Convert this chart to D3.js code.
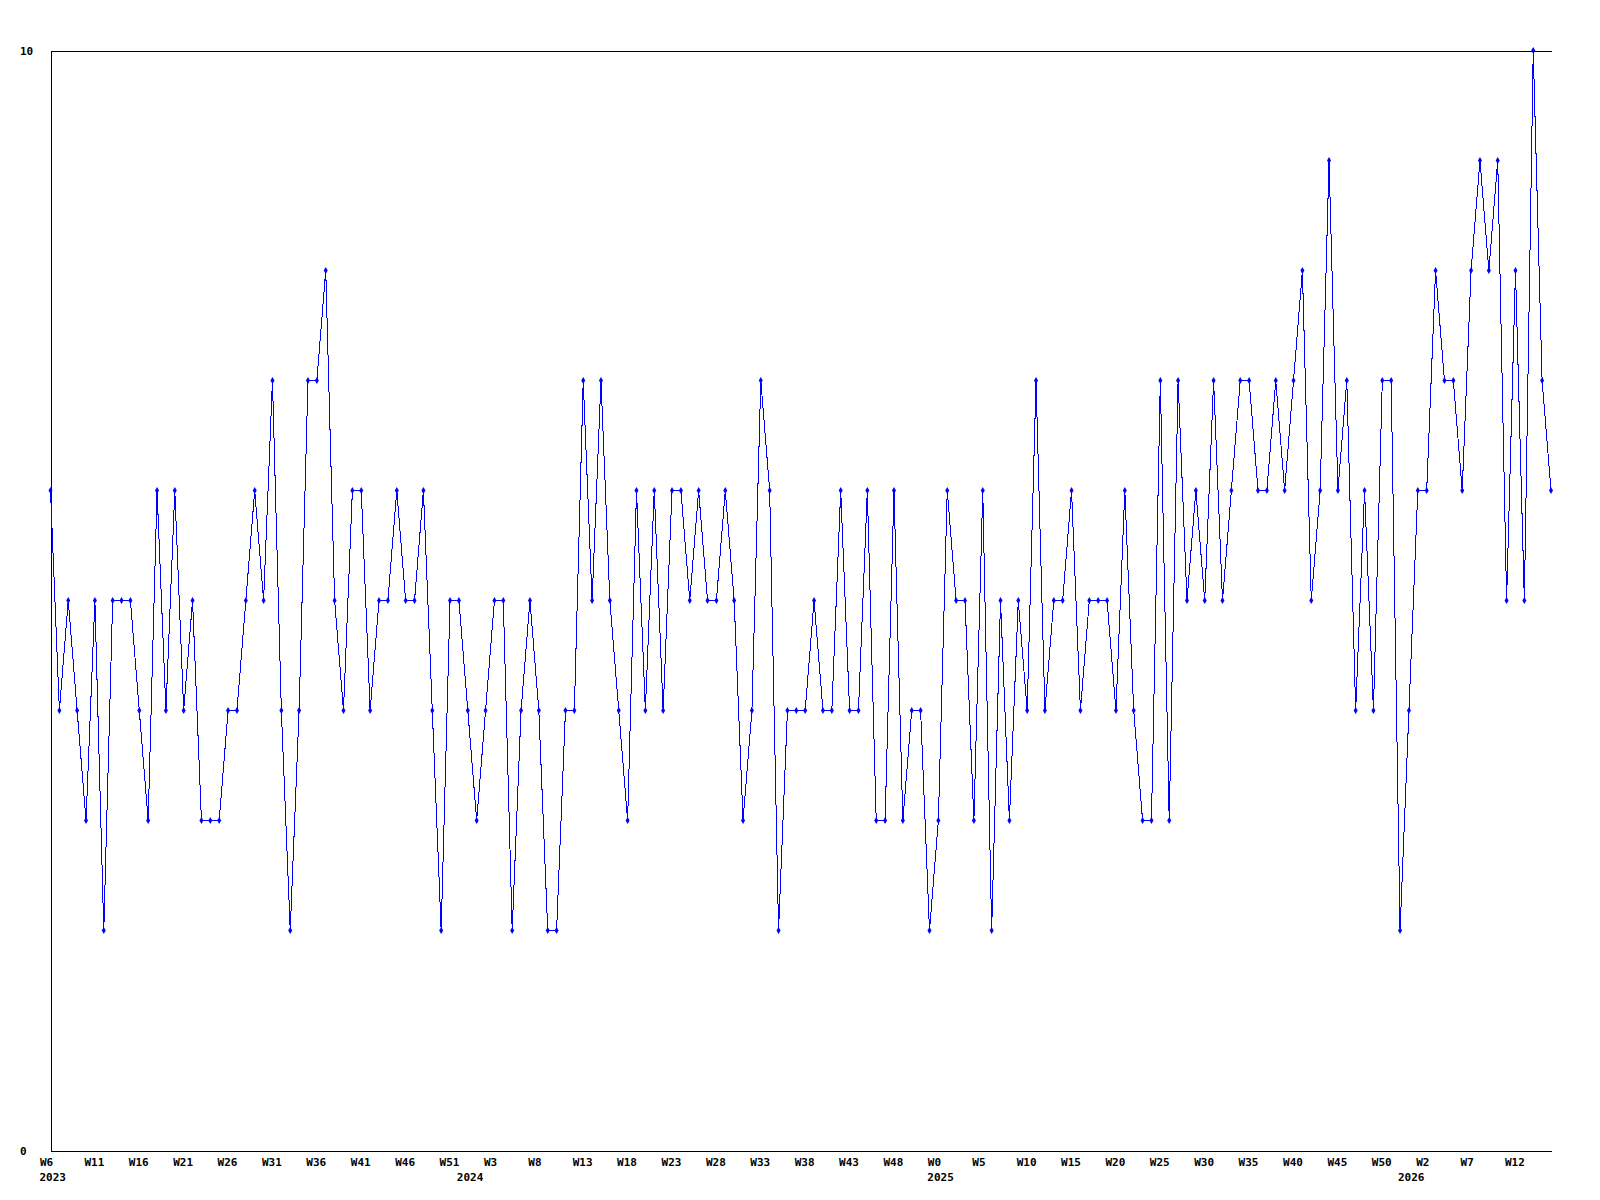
<!DOCTYPE html>
<html>
<head>
<meta charset="utf-8">
<script src="https://cdn.jsdelivr.net/npm/d3@7"></script>
<style>
  html, body { margin: 0; padding: 0; background: #fff; }
  svg { display: block; }
  text { font-family: "DejaVu Sans Mono", "Liberation Mono", monospace; font-weight: bold; font-size: 11px; fill: #000; }
</style>
</head>
<body>
<svg id="chart" width="1600" height="1200"></svg>
<script>
// ---- data ----
const years = ["2023", "2024", "2025", "2026"];
const weeks2023 = ["W6","W7","W8","W9","W10","W11","W12","W13","W14","W15","W16","W17","W18","W19","W20","W21","W22","W23","W24","W25","W26","W27","W28","W29","W30","W31","W32","W33","W34","W35","W36","W37","W38","W39","W40","W41","W42","W43","W44","W45","W46","W47","W48","W49","W50","W51","W52"];
const weeks2024 = ["W0","W1","W2","W3","W4","W5","W6","W7","W8","W9","W10","W11","W12","W13","W14","W15","W16","W17","W18","W19","W20","W21","W22","W23","W24","W25","W26","W27","W28","W29","W30","W31","W32","W33","W34","W35","W36","W37","W38","W39","W40","W41","W42","W43","W44","W45","W46","W47","W48","W49","W50","W51","W52"];
const weeks2025 = ["W0","W1","W2","W3","W4","W5","W6","W7","W8","W9","W10","W11","W12","W13","W14","W15","W16","W17","W18","W19","W20","W21","W22","W23","W24","W25","W26","W27","W28","W29","W30","W31","W32","W33","W34","W35","W36","W37","W38","W39","W40","W41","W42","W43","W44","W45","W46","W47","W48","W49","W50","W51","W52"];
const weeks2026 = ["W0","W1","W2","W3","W4","W5","W6","W7","W8","W9","W10","W11","W12","W13","W14","W15","W16"];
const values = [
  6,4,5,4,3,5,2,5,5,5,4,3,6,4,6,4,5,3,3,3,4,4,5,6,5,7,4,2,4,7,
  7,8,5,4,6,6,4,5,5,6,5,5,6,4,2,5,5,4,3,4,5,5,2,4,5,4,2,2,
  4,4,7,5,7,5,4,3,6,4,6,4,6,6,5,6,5,5,6,5,3,4,7,6,2,4,4,4,
  5,4,4,6,4,4,6,3,3,6,3,4,4,2,3,6,5,5,3,6,2,5,3,5,4,7,4,5,
  5,6,4,5,5,5,4,6,4,3,3,7,3,7,5,6,5,7,5,6,7,7,6,6,7,6,7,8,5,
  6,9,6,7,4,6,4,7,7,2,4,6,6,8,7,7,6,8,9,8,9,5,8,5,10,7,6
];
const yTicks = [0, 10];
const tickEvery = 5;

// build table
const weekLists = [weeks2023, weeks2024, weeks2025, weeks2026];
const rows = [];
weekLists.forEach((wl, yi) => wl.forEach((w, wi) => rows.push({ year: years[yi], week: w, firstOfYear: wi === 0 })));
rows.forEach((r, i) => r.value = values[i]);

// ---- chart ----
const svg = d3.select("#chart");
const plotLeft = 50.5, plotRight = 1551, plotTop = 50.5, plotBottom = 1150.5;

const x = d3.scaleLinear().domain([0, rows.length - 1]).range([plotLeft, plotRight]);
const y = d3.scaleLinear().domain([0, 10]).range([plotBottom, plotTop]);

// axes
const xAxis = d3.axisBottom(x)
  .tickValues(d3.range(0, rows.length, tickEvery))
  .tickFormat(i => rows[i].week)
  .tickSize(0).tickSizeOuter(0);
const gx = svg.append("g").attr("transform", `translate(0,${plotBottom})`).call(xAxis);
gx.select(".domain").attr("stroke", "#000").attr("shape-rendering", "crispEdges");
gx.selectAll(".tick text").attr("text-anchor", "start").attr("dx", -11).attr("y", 12)
  .attr("dy", "0.32em").attr("font-family", null).attr("font-size", null);

// year labels
svg.append("g").selectAll("text")
  .data(rows.map((r, i) => ({ r, i })).filter(d => d.r.firstOfYear))
  .join("text")
  .attr("x", d => x(d.i) - 11)
  .attr("y", plotBottom + 27)
  .attr("dy", "0.32em")
  .text(d => d.r.year);

const yAxis = d3.axisLeft(y).tickValues(yTicks).tickSize(0).tickSizeOuter(0).tickFormat(d3.format("d"));
const gy = svg.append("g").attr("transform", `translate(${plotLeft},0)`).call(yAxis);
gy.select(".domain").attr("stroke", "#000").attr("shape-rendering", "crispEdges");
gy.selectAll(".tick text").attr("text-anchor", "start").attr("x", 20 - plotLeft)
  .attr("font-family", null).attr("font-size", null);

const topAxis = d3.axisTop(x).tickValues([]).tickSizeOuter(0);
const gt = svg.append("g").attr("transform", `translate(0,${plotTop})`).call(topAxis);
gt.select(".domain").attr("stroke", "#000").attr("shape-rendering", "crispEdges");

// line
const line = d3.line().x((d, i) => x(i)).y(d => y(d.value));
svg.append("path")
  .datum(rows)
  .attr("fill", "none")
  .attr("stroke", "#0000ff")
  .attr("stroke-width", 1)
  .attr("shape-rendering", "crispEdges")
  .attr("d", line);

// markers (small diamonds)
const diamond = d3.symbol().type(d3.symbolDiamond).size(14);
svg.append("g").selectAll("path")
  .data(rows)
  .join("path")
  .attr("transform", (d, i) => `translate(${x(i)},${y(d.value)})`)
  .attr("d", diamond)
  .attr("fill", "#0000ff");
</script>
</body>
</html>
